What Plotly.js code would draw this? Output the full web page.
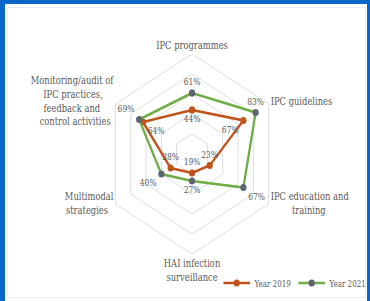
<!DOCTYPE html>
<html>
<head>
<meta charset="utf-8">
<script src="https://cdn.plot.ly/plotly-3.0.1.min.js"></script>
<style>
  html, body { margin:0; padding:0; }
  body { width:370px; height:301px; background:#0a66c8; position:relative; overflow:hidden; }
  #frame { position:absolute; left:5px; top:4px; width:362px; height:297px; background:#ffffff; }
  #inner { position:absolute; left:7px; top:7px; width:359px; height:291px; border:1px solid #ececec; box-sizing:border-box; }
  #chart { position:absolute; left:0; top:0; width:418px; height:301px; transform:scaleX(0.885); transform-origin:0 0; }
</style>
</head>
<body>
<div id="frame"></div>
<div id="inner"></div>
<div id="chart"></div>
<script>
// ---- data ----
const categories = [
  "IPC programmes",
  "IPC guidelines",
  "IPC education and training",
  "HAI infection surveillance",
  "Multimodal strategies",
  "Monitoring/audit of IPC practices, feedback and control activities"
];
const categoryLabels = [
  "IPC programmes",
  "IPC guidelines",
  "IPC education and<br>&nbsp;&nbsp;&nbsp;&nbsp;&nbsp;&nbsp;&nbsp;&nbsp;training<br>&nbsp;<br>&nbsp;<br>&nbsp;",
  "HAI infection<br>surveillance",
  "Multimodal<br>strategies&nbsp;&nbsp;<br>&nbsp;<br>&nbsp;<br>&nbsp;",
  "&nbsp;<br>&nbsp;<br>&nbsp;<br>Monitoring/audit of<br>IPC practices,&nbsp;&nbsp;&nbsp;&nbsp;<br>feedback and&nbsp;&nbsp;&nbsp;&nbsp;&nbsp;<br>control activities&nbsp;"
];
const year2019 = [44, 67, 23, 19, 28, 64];
const year2021 = [61, 83, 67, 27, 40, 69];
const seriesNames = ["Year 2019", "Year 2021"];
const pos2019 = ["bottom center", "bottom left", "top center", "top center", "top center", "bottom right"];
const pos2021 = ["top center", "top center", "bottom right", "bottom center", "bottom left", "top left"];

function closed(arr) { return arr.concat([arr[0]]); }
function labels(arr) { return arr.map(v => v + "%").concat([""]); }

const fontFam = "'DejaVu Serif Condensed', 'DejaVu Serif', serif";
const grey = "#595959";

const traces = [
  {
    type: "scatterpolar",
    mode: "lines+markers+text",
    name: seriesNames[0],
    r: closed(year2019),
    theta: closed(categories),
    text: labels(year2019),
    textposition: closed(pos2019),
    textfont: {family: fontFam, size: 9.5, color: grey},
    line: {color: "#c0531a", width: 2.6},
    marker: {color: "#c0531a", size: 7},
    cliponaxis: false,
    hoverinfo: "skip",
    legend: "legend"
  },
  {
    type: "scatterpolar",
    mode: "lines+markers+text",
    name: seriesNames[1],
    r: closed(year2021),
    theta: closed(categories),
    text: labels(year2021),
    textposition: closed(pos2021),
    textfont: {family: fontFam, size: 9.5, color: grey},
    line: {color: "#70ad47", width: 2.6},
    marker: {color: "#5d6370", size: 7},
    cliponaxis: false,
    hoverinfo: "skip",
    legend: "legend2"
  }
];

const W = 418, H = 301, S = 0.885;
const cx = 217, cy = 154, R = 100;
function legendBox(xFinal) {
  return {
    orientation: "h",
    x: (xFinal / S) / W, xanchor: "left",
    y: (H - 283) / H, yanchor: "middle",
    font: {family: fontFam, size: 9, color: grey},
    bgcolor: "rgba(0,0,0,0)",
    borderwidth: 0
  };
}
const layout = {
  width: W, height: H,
  margin: {l:0, r:0, t:0, b:0, autoexpand: false},
  paper_bgcolor: "rgba(0,0,0,0)",
  plot_bgcolor: "rgba(0,0,0,0)",
  font: {family: fontFam, size: 10.5, color: grey},
  showlegend: true,
  legend: legendBox(219),
  legend2: legendBox(294),
  polar: {
    domain: {
      x: [(cx - R) / W, (cx + R) / W],
      y: [(H - cy - R) / H, (H - cy + R) / H]
    },
    bgcolor: "rgba(0,0,0,0)",
    gridshape: "linear",
    radialaxis: {
      range: [0, 100], dtick: 20,
      showticklabels: false, ticks: "", showline: false,
      gridcolor: "#dcdcdc", gridwidth: 1
    },
    angularaxis: {
      type: "category",
      categoryorder: "array", categoryarray: categories,
      tickmode: "array", tickvals: categories, ticktext: categoryLabels,
      rotation: 90, direction: "clockwise",
      showgrid: false, showline: true, linecolor: "#dcdcdc", linewidth: 1,
      ticks: "",
      tickfont: {family: fontFam, size: 10.5, color: grey}
    }
  }
};

Plotly.newPlot("chart", traces, layout, {staticPlot: true, displayModeBar: false});
</script>
</body>
</html>
